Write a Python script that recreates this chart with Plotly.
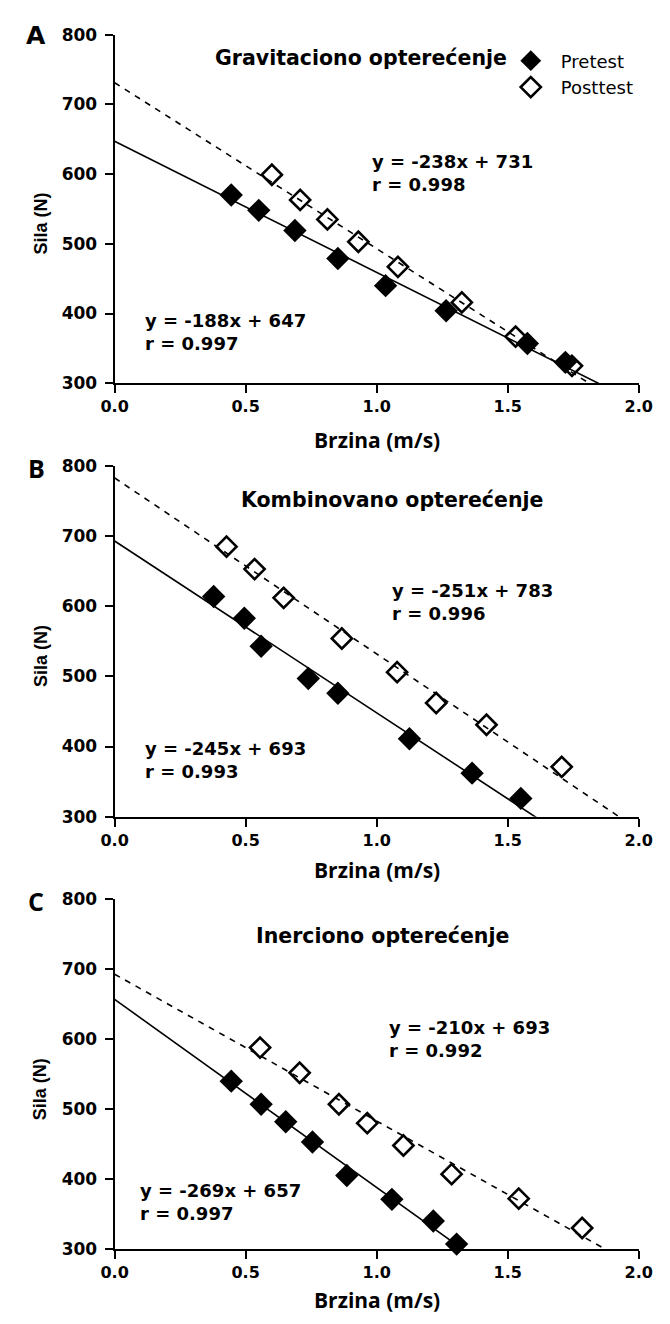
import plotly.graph_objects as go

W, H = 670, 1324

# ---------------- data ----------------
speed_ticks = [0.0, 0.5, 1.0, 1.5, 2.0]
force_ticks = [300, 400, 500, 600, 700, 800]

panel_letters = ["A", "B", "C"]
panel_titles = ["Gravitaciono opterećenje", "Kombinovano opterećenje", "Inerciono opterećenje"]
series_names = ["Pretest", "Posttest"]

# Panel A - gravitaciono
a_pre_x = [0.445, 0.55, 0.688, 0.852, 1.034, 1.265, 1.575, 1.72]
a_pre_y = [570, 548, 519, 479, 440, 404, 357, 330]
a_post_x = [0.60, 0.708, 0.812, 0.93, 1.081, 1.325, 1.53, 1.745]
a_post_y = [599, 563, 535, 503, 467, 416, 367, 325]

# Panel B - kombinovano
b_pre_x = [0.378, 0.495, 0.559, 0.739, 0.852, 1.125, 1.364, 1.55]
b_pre_y = [614, 583, 543, 497, 476, 411, 362, 326]
b_post_x = [0.427, 0.534, 0.645, 0.867, 1.078, 1.227, 1.419, 1.706]
b_post_y = [685, 653, 612, 554, 506, 462, 431, 371]

# Panel C - inerciono
c_pre_x = [0.445, 0.559, 0.653, 0.755, 0.886, 1.058, 1.216, 1.305]
c_pre_y = [540, 507, 482, 453, 405, 371, 340, 307]
c_post_x = [0.555, 0.706, 0.856, 0.964, 1.102, 1.286, 1.542, 1.784]
c_post_y = [588, 552, 507, 480, 448, 407, 372, 330]

# linear fits (from the equations printed on the chart)
pre_slope = [-188, -245, -269]
pre_intercept = [647, 693, 657]
pre_r = [0.997, 0.993, 0.997]
post_slope = [-238, -251, -210]
post_intercept = [731, 783, 693]
post_r = [0.998, 0.996, 0.992]

fit_x = [0.0, 2.0]

# ---------------- layout geometry (pixels) ----------------
plot_left, plot_right = 105, 652
panel_top = [25, 463, 903]
panel_bottom = [379, 819, 1258]
xtitle_py = [437, 873, 1310]
ytitle_py = [217, 656, 1096]
letter_py = [26, 465, 905]
letter_fonts = ["DejaVu Sans", "Open Sans", "Open Sans"]

# text positions in data units of each panel
title_pos = [(0.94, 767), (1.06, 751), (1.024, 748)]
post_eq_pos = [(0.976, 602), (1.05, 606), (1.04, 600)]
pre_eq_pos = [(0.11, 373), (0.11, 381), (0.09, 367)]


def px_x(p):
    return p / W


def px_y(p):
    return 1 - p / H


pre_x = [a_pre_x, b_pre_x, c_pre_x]
pre_y = [a_pre_y, b_pre_y, c_pre_y]
post_x = [a_post_x, b_post_x, c_post_x]
post_y = [a_post_y, b_post_y, c_post_y]

fig = go.Figure()
annotations = []
tick_font = dict(family="DejaVu Sans", size=17, color="black", weight="bold")

for i in range(3):
    sfx = "" if i == 0 else str(i + 1)
    xa, ya = "x" + sfx, "y" + sfx

    # fit lines
    fig.add_trace(go.Scatter(
        x=fit_x, y=[pre_intercept[i] + pre_slope[i] * v for v in fit_x],
        mode="lines", line=dict(color="black", width=1.6),
        xaxis=xa, yaxis=ya, showlegend=False, hoverinfo="skip"))
    fig.add_trace(go.Scatter(
        x=fit_x, y=[post_intercept[i] + post_slope[i] * v for v in fit_x],
        mode="lines", line=dict(color="black", width=1.6, dash="6px,6px"),
        xaxis=xa, yaxis=ya, showlegend=False, hoverinfo="skip"))

    # markers
    fig.add_trace(go.Scatter(
        x=pre_x[i], y=pre_y[i], mode="markers", name=series_names[0],
        marker=dict(symbol="diamond", size=18, color="black", line=dict(width=0)),
        xaxis=xa, yaxis=ya, showlegend=(i == 0), cliponaxis=False))
    fig.add_trace(go.Scatter(
        x=post_x[i], y=post_y[i], mode="markers", name=series_names[1],
        marker=dict(symbol="diamond-open", size=15.5, color="black", line=dict(width=2.6, color="black")),
        xaxis=xa, yaxis=ya, showlegend=(i == 0), cliponaxis=False))

    dom_y = [px_y(panel_bottom[i]), px_y(panel_top[i])]
    fig.update_layout(**{
        "xaxis" + sfx: dict(
            domain=[px_x(plot_left), px_x(plot_right)], anchor=ya, range=[0, 2],
            tickvals=speed_ticks, ticktext=["%.1f" % v for v in speed_ticks],
            showline=True, linecolor="black", linewidth=2, ticks="outside",
            ticklen=8, tickwidth=2, tickcolor="black", showgrid=False, zeroline=False,
            tickfont=dict(family="DejaVu Sans", size=16, color="black", weight="bold"),
            fixedrange=True),
        "yaxis" + sfx: dict(
            domain=dom_y, anchor=xa, range=[300, 800], tickvals=force_ticks,
            showline=True, linecolor="black", linewidth=2, ticks="outside",
            ticklen=8, tickwidth=2, tickcolor="black", showgrid=False, zeroline=False,
            tickfont=tick_font, ticklabelstandoff=4, fixedrange=True),
    })

    # panel letter
    annotations.append(dict(
        text="<b>%s</b>" % panel_letters[i], xref="paper", yref="paper",
        x=px_x(23), y=px_y(letter_py[i]), xanchor="center", yanchor="middle",
        showarrow=False, font=dict(family=letter_fonts[i], size=25, color="black")))
    # panel title
    annotations.append(dict(
        text="<b>%s</b>" % panel_titles[i], xref=xa, yref=ya,
        x=title_pos[i][0], y=title_pos[i][1], xanchor="center", yanchor="middle",
        showarrow=False, font=dict(family="DejaVu Sans", size=20.5, color="black")))
    # equations
    annotations.append(dict(
        text="<b>y = %dx + %d<br>r = %.3f</b>" % (post_slope[i], post_intercept[i], post_r[i]),
        xref=xa, yref=ya, x=post_eq_pos[i][0], y=post_eq_pos[i][1],
        xanchor="left", yanchor="middle", align="left", showarrow=False,
        font=dict(family="DejaVu Sans", size=18, color="black")))
    annotations.append(dict(
        text="<b>y = %dx + %d<br>r = %.3f</b>" % (pre_slope[i], pre_intercept[i], pre_r[i]),
        xref=xa, yref=ya, x=pre_eq_pos[i][0], y=pre_eq_pos[i][1],
        xanchor="left", yanchor="middle", align="left", showarrow=False,
        font=dict(family="DejaVu Sans", size=18, color="black")))
    # axis titles
    annotations.append(dict(
        text="<b>Brzina (m/s)</b>", xref="paper", yref="paper",
        x=px_x((plot_left + plot_right) / 2), y=px_y(xtitle_py[i]),
        xanchor="center", yanchor="middle", showarrow=False,
        font=dict(family="Open Sans", size=21, color="black")))
    annotations.append(dict(
        text="<b>Sila (N)</b>", xref="paper", yref="paper",
        x=px_x(28), y=px_y(ytitle_py[i]), textangle=-90,
        xanchor="center", yanchor="middle", showarrow=False,
        font=dict(family="Liberation Sans", size=18, color="black")))

fig.update_layout(
    width=W, height=H,
    margin=dict(l=0, r=0, t=0, b=0),
    paper_bgcolor="white", plot_bgcolor="white",
    annotations=annotations,
    showlegend=True,
    legend=dict(x=px_x(508), y=px_y(33), xanchor="left", yanchor="top",
                font=dict(family="DejaVu Sans", size=18, color="black"),
                itemwidth=50, bgcolor="rgba(0,0,0,0)", tracegroupgap=0),
)

fig.write_html(
    "out.html",
    config={"displayModeBar": False},
    post_script="document.body.style.margin='0px';document.body.style.overflow='hidden';",
)
